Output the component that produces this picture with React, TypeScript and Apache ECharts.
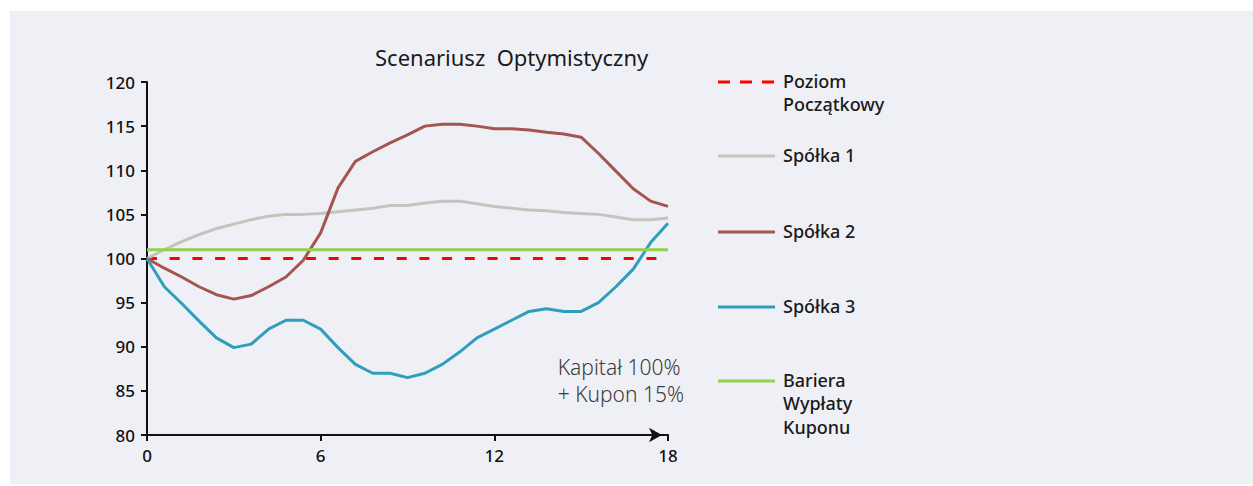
import React, { useEffect, useRef } from "react";
import * as echarts from "echarts";

const months = [0, 0.6, 1.2, 1.8, 2.4, 3.0, 3.6, 4.2, 4.8, 5.4, 6.0, 6.6, 7.2, 7.8, 8.4, 9.0, 9.6, 10.2, 10.8, 11.4, 12.0, 12.6, 13.2, 13.8, 14.4, 15.0, 15.6, 16.2, 16.8, 17.4, 18.0];

const spolka1 = [100, 101.0, 101.9, 102.7, 103.4, 103.9, 104.4, 104.8, 105.0, 105.0, 105.1, 105.3, 105.5, 105.7, 106.0, 106.0, 106.3, 106.5, 106.5, 106.2, 105.9, 105.7, 105.5, 105.4, 105.2, 105.1, 105.0, 104.7, 104.4, 104.4, 104.6];
const spolka2 = [100, 98.9, 97.9, 96.8, 95.9, 95.4, 95.8, 96.8, 97.9, 99.8, 102.9, 108.0, 111.0, 112.1, 113.1, 114.0, 115.0, 115.2, 115.2, 115.0, 114.7, 114.7, 114.55, 114.3, 114.1, 113.75, 111.9, 109.9, 107.9, 106.5, 105.9];
const spolka3 = [100, 96.8, 94.9, 92.9, 91.0, 89.9, 90.3, 92.0, 93.0, 93.0, 92.0, 89.9, 88.0, 87.0, 87.0, 86.5, 87.0, 88.0, 89.4, 91.0, 92.0, 93.0, 94.0, 94.3, 94.0, 94.0, 95.0, 96.8, 98.8, 101.8, 104.0];

const poziomStart = [0, 100];
const poziomEnd = [17.6, 100];
const bariera = 101;

const title = "Scenariusz  Optymistyczny";
const note = "Kapitał 100%\n+ Kupon 15%";

const legendItems = [
  { name: "Poziom\nPoczątkowy", color: "#ff0000", dashed: true },
  { name: "Spółka 1", color: "#c4c4bc", dashed: false },
  { name: "Spółka 2", color: "#a5554f", dashed: false },
  { name: "Spółka 3", color: "#2f9ebd", dashed: false },
  { name: "Bariera\nWypłaty\nKuponu", color: "#92d050", dashed: false },
];
const legendY = [82, 156, 232, 307, 381];

const FONT = "Noto Sans";

export default function App() {
  const ref = useRef<HTMLDivElement>(null);
  useEffect(() => {
    if (!ref.current) return;
    const chart = echarts.init(ref.current, null, { renderer: "svg" });
    const pair = (ys: number[]) => months.map((m, i) => [m, ys[i]]);

    const graphics: any[] = [
      {
        type: "rect",
        z: -10,
        silent: true,
        shape: { x: 10, y: 11, width: 1243, height: 473 },
        style: { fill: "#eff0f6" },
      },
      {
        type: "text",
        left: 375,
        top: 46,
        style: { text: title, font: `22px '${FONT}'`, fill: "#1a1a1a" },
      },
      {
        type: "text",
        right: 1253 - 684,
        top: 353,
        style: {
          text: note,
          font: `300 21px '${FONT}'`,
          fill: "#3c3c3c",
          align: "right",
          lineHeight: 27,
        },
      },
    ];
    legendItems.forEach((it, i) => {
      const y = legendY[i];
      graphics.push({
        type: "line",
        shape: { x1: 718, y1: y, x2: 775, y2: y },
        style: {
          stroke: it.color,
          lineWidth: 3,
          lineDash: it.dashed ? [12, 10] : null,
        },
      });
      graphics.push({
        type: "text",
        x: 783,
        y: y - 13,
        style: {
          text: it.name,
          font: `500 18px '${FONT}'`,
          fill: "#1a1a1a",
          lineHeight: 23.5,
          verticalAlign: "top",
        },
      });
    });

    chart.setOption({
      animation: false,
      backgroundColor: "#ffffff",
      grid: { left: 147, right: 585, top: 82, bottom: 51, containLabel: false },
      xAxis: {
        type: "value",
        min: 0,
        max: 18,
        interval: 6,
        axisLine: {
          show: true,
          lineStyle: { color: "#111", width: 2 },
          symbol: ["none", "arrow"],
          symbolSize: [11, 13],
          symbolOffset: [0, -6],
        },
        axisTick: { show: true, length: 6, lineStyle: { color: "#111", width: 2 } },
        axisLabel: { color: "#111", fontFamily: FONT, fontSize: 17, fontWeight: 500, margin: 12 },
        splitLine: { show: false },
      },
      yAxis: {
        type: "value",
        min: 80,
        max: 120,
        interval: 5,
        axisLine: { show: true, onZero: false, lineStyle: { color: "#111", width: 2 } },
        axisTick: { show: true, length: 6, lineStyle: { color: "#111", width: 2 } },
        axisLabel: { color: "#111", fontFamily: FONT, fontSize: 17, fontWeight: 500, margin: 12 },
        splitLine: { show: false },
      },
      graphic: graphics,
      series: [
        {
          name: "Poziom Początkowy",
          type: "line",
          data: [poziomStart, poziomEnd],
          symbol: "none",
          lineStyle: { color: "#ff0000", width: 3, type: [10, 12.7] },
        },
        {
          name: "Spółka 1",
          type: "line",
          data: pair(spolka1),
          symbol: "none",
          lineStyle: { color: "#c4c4bc", width: 3 },
        },
        {
          name: "Spółka 2",
          type: "line",
          data: pair(spolka2),
          symbol: "none",
          lineStyle: { color: "#a5554f", width: 3 },
        },
        {
          name: "Spółka 3",
          type: "line",
          data: pair(spolka3),
          symbol: "none",
          lineStyle: { color: "#2f9ebd", width: 3 },
        },
        {
          name: "Bariera Wypłaty Kuponu",
          type: "line",
          data: [[0, bariera], [18, bariera]],
          symbol: "none",
          lineStyle: { color: "#92d050", width: 3 },
        },
      ],
    });
    return () => chart.dispose();
  }, []);
  return (
    <div
      ref={ref}
      style={{ position: "absolute", left: 0, top: 0, width: 1253, height: 486 }}
    />
  );
}
